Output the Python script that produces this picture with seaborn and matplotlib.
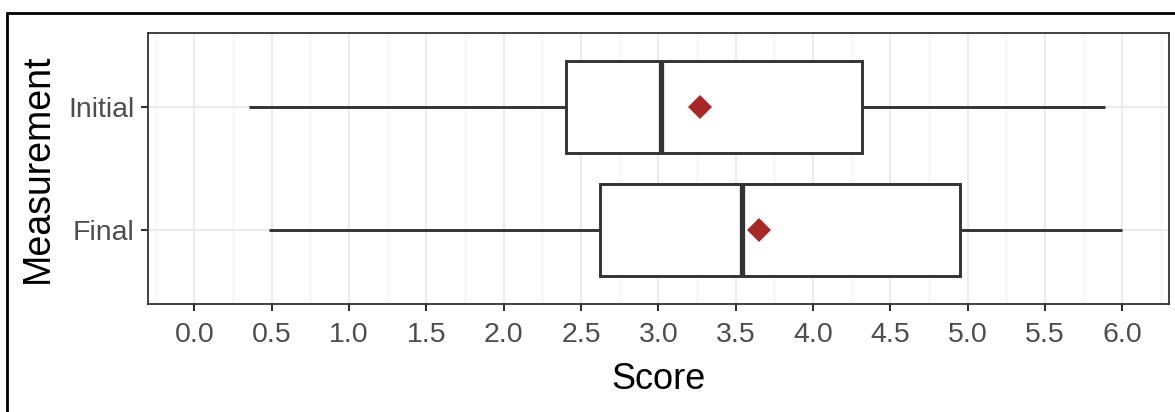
import numpy as np
import pandas as pd
import matplotlib
matplotlib.use("Agg")
import matplotlib.pyplot as plt
from matplotlib.lines import Line2D
from matplotlib.ticker import MultipleLocator
import seaborn as sns

# Five-number summaries (min, Q1, median, Q3, max) per measurement
measurements = ["Initial", "Final"]
initial_summary = [0.35, 2.40, 3.02, 4.32, 5.89]
final_summary = [0.48, 2.62, 3.54, 4.95, 6.00]
mean_scores = [3.27, 3.65]
x_ticks = [0.0, 0.5, 1.0, 1.5, 2.0, 2.5, 3.0, 3.5, 4.0, 4.5, 5.0, 5.5, 6.0]

sns.set_theme(style="white")
plt.rcParams["font.family"] = ["Liberation Sans", "DejaVu Sans"]

box_df = pd.DataFrame({
    "Measurement": ["Initial"] * len(initial_summary) + ["Final"] * len(final_summary),
    "Score": initial_summary + final_summary,
})
mean_df = pd.DataFrame({"Measurement": measurements, "Score": mean_scores})

fig = plt.figure(figsize=(11.75, 4.12), dpi=100)
ax = fig.add_axes([0.126, 0.262, 0.8686, 0.658])

line_col = "#333333"
sns.boxplot(
    data=box_df, x="Score", y="Measurement", order=measurements,
    whis=np.inf, width=0.75, color="white", linecolor=line_col,
    linewidth=2.1, showcaps=False,
    medianprops={"linewidth": 3.8, "color": line_col},
    ax=ax, zorder=3,
)
sns.pointplot(
    data=mean_df, x="Score", y="Measurement", order=measurements,
    marker="D", markersize=12, linestyle="none", color="#A82828",
    errorbar=None, ax=ax,
)
for coll in ax.collections:
    coll.set_zorder(6)
for ln in ax.lines:
    if ln.get_marker() == "D":
        ln.set_zorder(6)
        ln.set_markeredgewidth(0)

ax.set_xlim(-0.3, 6.3)
ax.set_ylim(1.6, -0.6)
ax.set_xticks(x_ticks)
ax.set_xticklabels([f"{t:.1f}" for t in x_ticks])
ax.xaxis.set_minor_locator(MultipleLocator(0.25))

ax.set_axisbelow(True)
ax.grid(True, which="major", axis="both", color="#EBEBEB", linewidth=1.5, zorder=0)
ax.grid(True, which="minor", axis="x", color="#F3F3F3", linewidth=1.0, zorder=0)

for sp in ax.spines.values():
    sp.set_visible(True)
    sp.set_color(line_col)
    sp.set_linewidth(1.3)

ax.tick_params(axis="both", which="major", length=5, width=1.5, color=line_col,
               labelsize=20.5, labelcolor="#4D4D4D")
ax.tick_params(axis="x", which="major", bottom=True, pad=8)
ax.tick_params(axis="y", which="major", left=True, pad=5)
ax.tick_params(axis="x", which="minor", bottom=False)

ax.set_xlabel("Score", fontsize=26, color="black", labelpad=10)
ax.set_ylabel("Measurement", fontsize=27, color="black", labelpad=9)

# Outer frame lines along the top and left edges
fig.add_artist(Line2D([7 / 1175, 1.0], [1 - 13 / 412, 1 - 13 / 412],
                      transform=fig.transFigure, color="black", linewidth=2))
fig.add_artist(Line2D([7 / 1175, 7 / 1175], [0.0, 1 - 13 / 412],
                      transform=fig.transFigure, color="black", linewidth=2))

fig.savefig("out.png", dpi=100)
